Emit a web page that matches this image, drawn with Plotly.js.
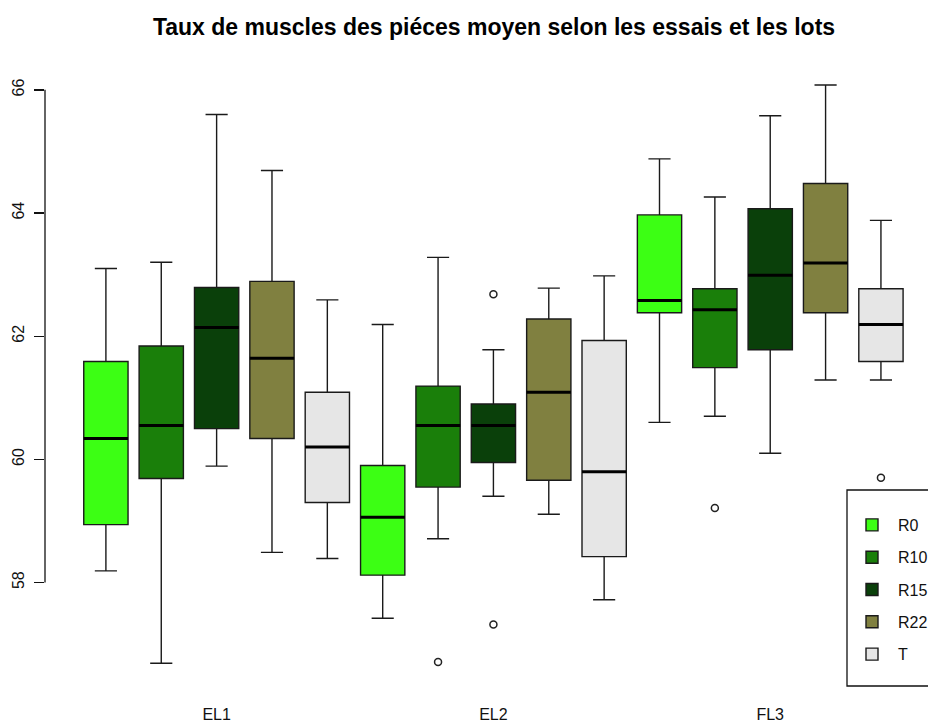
<!DOCTYPE html>
<html>
<head>
<meta charset="utf-8">
<script src="https://cdn.plot.ly/plotly-3.0.1.min.js"></script>
<style>html,body{margin:0;padding:0;background:#fff;}</style>
</head>
<body>
<div id="chart" style="width:928px;height:722px;"></div>
<script>
// Groups (essais) and lots
const essais = ["EL1", "EL2", "FL3"];
const lots = ["R0", "R10", "R15", "R22", "T"];
const colors = ["#3CFF14", "#1A7F0A", "#0A400A", "#808040", "#E6E6E6"];

// Box statistics per lot, ordered EL1, EL2, FL3
const lowerR0  = [58.19, 57.42, 60.60];
const q1R0     = [58.94, 58.12, 62.38];
const medR0    = [60.34, 59.06, 62.58];
const q3R0     = [61.59, 59.90, 63.97];
const upperR0  = [63.10, 62.19, 64.88];

const lowerR10 = [56.69, 58.71, 60.70];
const q1R10    = [59.69, 59.55, 61.49];
const medR10   = [60.55, 60.55, 62.43];
const q3R10    = [61.84, 61.19, 62.77];
const upperR10 = [63.20, 63.28, 64.26];

const lowerR15 = [59.89, 59.40, 60.10];
const q1R15    = [60.50, 59.95, 61.78];
const medR15   = [62.14, 60.55, 62.99];
const q3R15    = [62.79, 60.90, 64.07];
const upperR15 = [65.60, 61.78, 65.58];

const lowerR22 = [58.49, 59.11, 61.29];
const q1R22    = [60.34, 59.66, 62.38];
const medR22   = [61.64, 61.09, 63.19];
const q3R22    = [62.89, 62.28, 64.48];
const upperR22 = [64.69, 62.78, 66.08];

const lowerT   = [58.39, 57.72, 61.29];
const q1T      = [59.30, 58.42, 61.59];
const medT     = [60.20, 59.80, 62.19];
const q3T      = [61.09, 61.93, 62.77];
const upperT   = [62.59, 62.98, 63.88];

// Outliers: [essai index, value]
const outR0  = [];
const outR10 = [[1, 56.71], [2, 59.21]];
const outR15 = [[1, 62.68], [1, 57.32]];
const outR22 = [];
const outT   = [[2, 59.70]];

const stats = [
  {lo: lowerR0,  q1: q1R0,  me: medR0,  q3: q3R0,  hi: upperR0,  out: outR0},
  {lo: lowerR10, q1: q1R10, me: medR10, q3: q3R10, hi: upperR10, out: outR10},
  {lo: lowerR15, q1: q1R15, me: medR15, q3: q3R15, hi: upperR15, out: outR15},
  {lo: lowerR22, q1: q1R22, me: medR22, q3: q3R22, hi: upperR22, out: outR22},
  {lo: lowerT,   q1: q1T,   me: medT,   q3: q3T,   hi: upperT,   out: outT}
];

const nLots = lots.length;
const boxW = 0.8;
const pos = (g, l) => g * nLots + l + 1;

const traces = [];
const medX = [], medY = [];
const outX = [], outY = [];
lots.forEach((lot, l) => {
  const s = stats[l];
  const xs = essais.map((e, g) => pos(g, l));
  traces.push({
    type: "box",
    name: lot,
    legendgroup: lot,
    x: xs,
    q1: s.q1, median: s.me, q3: s.q3,
    lowerfence: s.lo, upperfence: s.hi,
    width: boxW,
    whiskerwidth: 0.5,
    fillcolor: colors[l],
    line: {color: "#1a1a1a", width: 1.4},
    boxpoints: false,
    hoverinfo: "skip"
  });
  xs.forEach((x, g) => {
    medX.push(x - boxW / 2, x + boxW / 2, null);
    medY.push(s.me[g], s.me[g], null);
  });
  s.out.forEach(([g, v]) => { outX.push(pos(g, l)); outY.push(v); });
});

traces.push({
  type: "scatter", mode: "lines", x: medX, y: medY,
  line: {color: "#000", width: 3}, showlegend: false, hoverinfo: "skip"
});
traces.push({
  type: "scatter", mode: "markers", x: outX, y: outY,
  marker: {symbol: "circle-open", size: 7, color: "#222", line: {width: 1.5, color: "#222"}},
  showlegend: false, hoverinfo: "skip"
});

const labelPos = essais.map((e, g) => pos(g, 2));
const yTicks = [58, 60, 62, 64, 66];

const plotTop = 64, plotBottom = 686;
const paperY = (py) => (plotBottom - py) / (plotBottom - plotTop);

const layout = {
  width: 928, height: 722,
  paper_bgcolor: "#fff", plot_bgcolor: "#fff",
  font: {family: "Liberation Sans, Arial, sans-serif", size: 16, color: "#111"},
  margin: {l: 45, r: 0, t: plotTop, b: 722 - plotBottom, autoexpand: false},
  title: {
    text: "Taux de muscles des piéces moyen selon les essais et les lots",
    font: {family: "Liberation Sans, Arial, sans-serif", size: 23, weight: "bold", color: "#000"},
    x: 494 / 928, xanchor: "center", xref: "container",
    y: 1 - 27 / 722, yanchor: "middle", yref: "container"
  },
  xaxis: {
    range: [-0.1, 15.85],
    showgrid: false, zeroline: false, showline: false,
    ticks: "", tickmode: "array", tickvals: labelPos, ticktext: essais,
    tickfont: {size: 16},
    ticklabelstandoff: 17
  },
  yaxis: {
    range: [56.32, 66.42],
    showgrid: false, zeroline: false, showline: false,
    ticks: "outside", ticklen: 10, tickwidth: 1.3, tickcolor: "#111",
    tickmode: "array", tickvals: yTicks, tickangle: -90,
    tickfont: {size: 16},
    ticklabelstandoff: 4
  },
  shapes: [
    {
      type: "line", xref: "paper", yref: "y",
      x0: 0, x1: 0, y0: yTicks[0], y1: yTicks[yTicks.length - 1],
      line: {color: "#111", width: 1.3}
    },
    {
      type: "rect", xref: "paper", yref: "paper", layer: "above",
      x0: (847 - 45) / 883, x1: 1.2, y0: 0, y1: paperY(490),
      fillcolor: "#fff", line: {color: "#111", width: 1.3}
    }
  ],
  showlegend: true,
  legend: {
    x: (846 - 45) / 883, xanchor: "left",
    y: paperY(508), yanchor: "top",
    borderwidth: 0, bgcolor: "rgba(0,0,0,0)",
    font: {size: 16},
    itemwidth: 42,
    tracegroupgap: 8.5,
    traceorder: "grouped"
  }
};

Plotly.newPlot("chart", traces, layout, {displayModeBar: false, staticPlot: true});
</script>
</body>
</html>
